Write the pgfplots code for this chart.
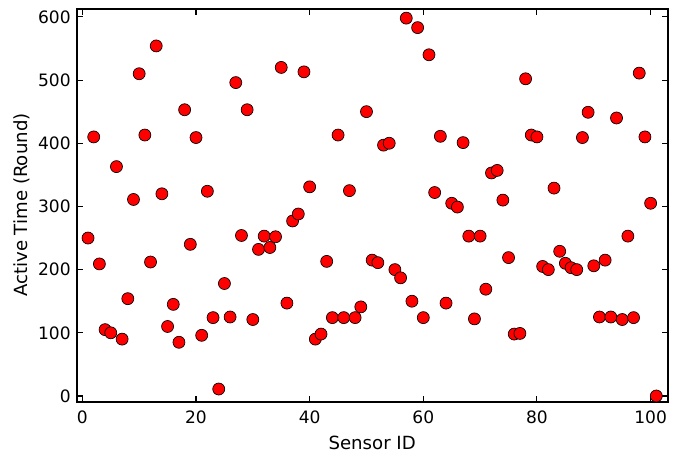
\documentclass[border=0pt]{standalone}
\usepackage{fontspec}
\setmainfont{DejaVu Sans}
\usepackage{pgfplots}
\pgfplotsset{compat=1.18}
\begin{document}
\begin{tikzpicture}
\begin{axis}[
  scale only axis,
  width=443.25pt, height=294.75pt,
  xmin=-1, xmax=103, ymin=-9, ymax=613,
  xtick={0,20,40,60,80,100},
  ytick={0,100,200,300,400,500,600},
  tick align=inside,
  major tick length=4.5pt,
  tick style={black, line width=0.8pt},
  axis line style={line width=1.3pt},
  xtick pos=both, ytick pos=both,
  /pgf/number format/assume math mode=true,
  ticklabel style={font=\fontsize{12.8}{15}\selectfont},
  label style={font=\fontsize{13.6}{16}\selectfont},
  xticklabel style={yshift=-3pt},
  yticklabel style={xshift=-1pt},
  xlabel={Sensor ID},
  ylabel={Active Time (Round)},
  xlabel style={yshift=-3pt},
  ylabel style={yshift=-0.5pt},
]
\addplot[only marks, mark=*, mark size=4.5pt, mark options={fill=red, draw=black, line width=0.5pt}] coordinates {
(1,250)(2,410)(3,209)(4,105)(5,100)(6,363)(7,90)(8,154)(9,311)(10,510)
(11,413)(12,212)(13,554)(14,320)(15,110)(16,145)(17,85)(18,453)(19,240)(20,409)
(21,96)(22,324)(23,124)(24,11)(25,178)(26,125)(27,496)(28,254)(29,453)(30,121)
(31,232)(32,253)(33,235)(34,252)(35,520)(36,147)(37,277)(38,288)(39,513)(40,331)
(41,90)(42,98)(43,213)(44,124)(45,413)(46,124)(47,325)(48,124)(49,141)(50,450)
(51,215)(52,211)(53,397)(54,400)(55,200)(56,187)(57,598)(58,150)(59,583)(60,124)
(61,540)(62,322)(63,411)(64,147)(65,305)(66,299)(67,401)(68,253)(69,122)(70,253)
(71,169)(72,353)(73,357)(74,310)(75,219)(76,98)(77,99)(78,502)(79,413)(80,410)
(81,205)(82,200)(83,329)(84,229)(85,210)(86,203)(87,200)(88,409)(89,449)(90,206)
(91,125)(92,215)(93,125)(94,440)(95,121)(96,253)(97,124)(98,511)(99,410)(100,305)
(101,0)
};
\end{axis}
\path (current axis.south west) ++(-57.5pt,-41.5pt) coordinate (bbsw);
\path (current axis.north east) ++(11.5pt,6.5pt) coordinate (bbne);
\path (bbsw) rectangle (bbne);
\end{tikzpicture}
\end{document}
